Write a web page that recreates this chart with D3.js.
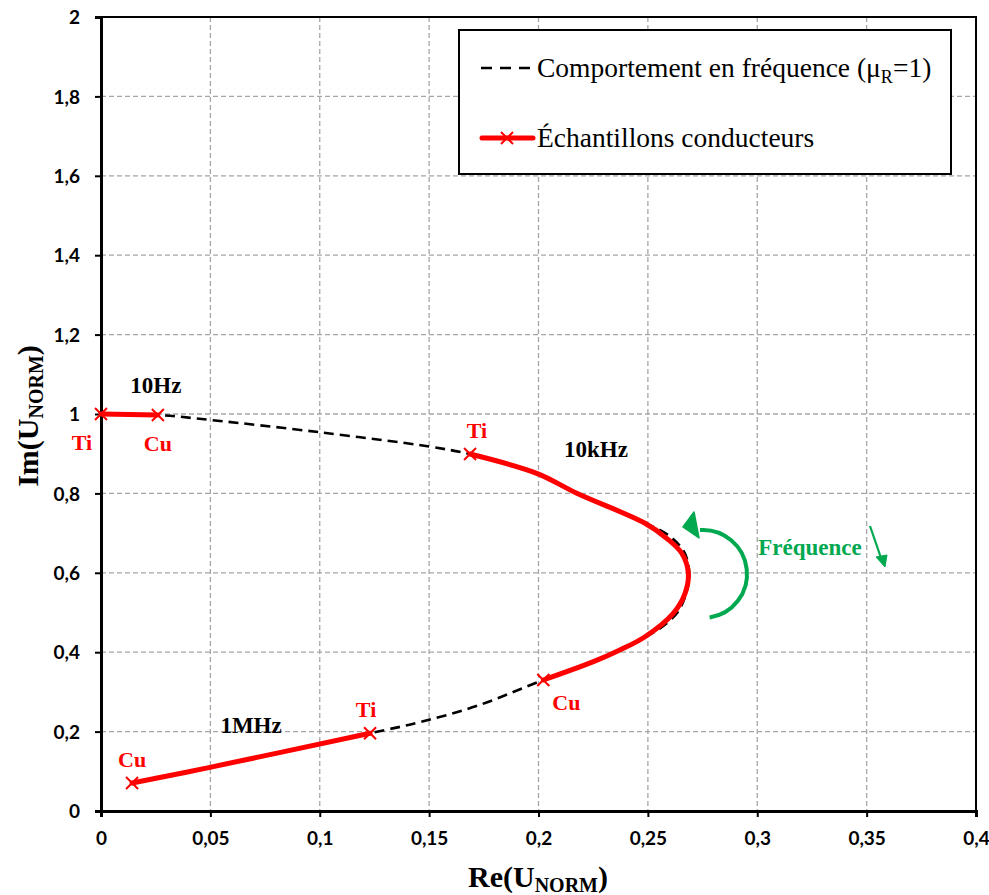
<!DOCTYPE html>
<html><head><meta charset="utf-8">
<script src="https://cdn.jsdelivr.net/npm/d3@7"></script>
<style>body{margin:0;background:#fff}</style>
</head><body>
<svg id="c" width="989" height="895"></svg>
<script>
// Data
const xTicks = [0,0.05,0.1,0.15,0.2,0.25,0.3,0.35,0.4];
const yTicks = [0,0.2,0.4,0.6,0.8,1,1.2,1.4,1.6,1.8,2];
// frequency behaviour (mu_R = 1), [Re, Im]
const freqCurve = [[0,1.0],[0.026,0.9975],[0.05,0.985],[0.1,0.954],[0.15,0.918],[0.1687,0.899],[0.1992,0.851],[0.2175,0.80],[0.2487,0.726],[0.2605,0.69],[0.2668,0.65],[0.2689,0.6],[0.2676,0.55],[0.2635,0.5],[0.2555,0.46],[0.2487,0.438],[0.2372,0.405],[0.2251,0.376],[0.2022,0.33],[0.173,0.267],[0.146,0.224],[0.123,0.196],[0.0498,0.110],[0.0142,0.0705]];
// conductive samples (three frequency segments)
const seg10Hz = [[0,1.0],[0.026,0.9975]];
const seg10kHz = [[0.1687,0.8992],[0.1992,0.8506],[0.2175,0.8003],[0.2487,0.7247],[0.2586,0.6869],[0.2655,0.6491],[0.2685,0.5987],[0.267,0.5484],[0.2616,0.498],[0.2487,0.439],[0.2372,0.4055],[0.2251,0.3761],[0.2022,0.33]];
const seg1MHz = [[0.123,0.196],[0.0498,0.110],[0.0142,0.0705]];
const sampleLabels = [
  {t:"Ti", x:0, y:1.0, dx:-19, dy:36},
  {t:"Cu", x:0.026, y:0.9975, dx:0, dy:36},
  {t:"Ti", x:0.1687, y:0.8992, dx:7, dy:-16},
  {t:"Cu", x:0.2022, y:0.33, dx:23, dy:30},
  {t:"Ti", x:0.123, y:0.196, dx:-4, dy:-16},
  {t:"Cu", x:0.0142, y:0.0705, dx:0, dy:-16}
];
const freqLabels = [
  {t:"10Hz", x:0.0251, y:1.053},
  {t:"10kHz", x:0.2263, y:0.8917},
  {t:"1MHz", x:0.0686, y:0.1965}
];

const svg = d3.select("#c");
const L=101, R=976, T=17, B=811;
const x = d3.scaleLinear().domain([0,0.4]).range([L,R]);
const y = d3.scaleLinear().domain([0,2]).range([B,T]);
const fmt = d => String(+d.toFixed(2)).replace(".",",");
const serif = "'Liberation Serif', 'Times New Roman', serif";

// grid
const g = svg.append("g");
g.selectAll(".gx").data(xTicks.slice(1,-1)).join("line")
  .attr("x1",d=>x(d)).attr("x2",d=>x(d)).attr("y1",T).attr("y2",B)
  .attr("stroke","#a6a6a6").attr("stroke-width",1.3).attr("stroke-dasharray","5,3");
g.selectAll(".gy").data(yTicks.slice(1,-1)).join("line")
  .attr("y1",d=>y(d)).attr("y2",d=>y(d)).attr("x1",L).attr("x2",R)
  .attr("stroke","#a6a6a6").attr("stroke-width",1.3).attr("stroke-dasharray","5,3");

// frame
svg.append("rect").attr("x",L).attr("y",T).attr("width",R-L).attr("height",B-T)
  .attr("fill","none").attr("stroke","#000").attr("stroke-width",2);

// axes
const xa = svg.append("g").attr("transform",`translate(0,${B})`)
  .call(d3.axisBottom(x).tickValues(xTicks).tickFormat(fmt).tickSize(6).tickPadding(15));
const ya = svg.append("g").attr("transform",`translate(${L},0)`)
  .call(d3.axisLeft(y).tickValues(yTicks).tickFormat(fmt).tickSize(6).tickPadding(15));
[xa,ya].forEach(a=>{
  a.select(".domain").attr("stroke","#000").attr("stroke-width",3);
  a.selectAll(".tick line").attr("stroke","#000").attr("stroke-width",2);
  a.selectAll("text").attr("font-family","Lato, 'Open Sans', sans-serif")
    .attr("font-weight","bold").attr("font-size","19px").attr("fill","#000");
});
ya.selectAll("text").attr("dy","0.35em");

// axis titles
const xt = svg.append("text").attr("x",538).attr("y",887).attr("text-anchor","middle")
  .attr("font-family",serif).attr("font-weight","bold").attr("font-size","30px");
xt.append("tspan").text("Re(U");
xt.append("tspan").text("NORM").attr("font-size","20px").attr("dy","5");
xt.append("tspan").text(")").attr("dy","-5");
const yt = svg.append("text").attr("transform","translate(38,416) rotate(-90)").attr("text-anchor","middle")
  .attr("font-family",serif).attr("font-weight","bold").attr("font-size","30px");
yt.append("tspan").text("Im(U");
yt.append("tspan").text("NORM").attr("font-size","20px").attr("dy","5");
yt.append("tspan").text(")").attr("dy","-5");

// curves
const line = d3.line().x(d=>x(d[0])).y(d=>y(d[1])).curve(d3.curveCatmullRom);
svg.append("path").attr("d",line(freqCurve)).attr("fill","none")
  .attr("stroke","#000").attr("stroke-width",2.6).attr("stroke-dasharray","10,6");
[seg10Hz,seg10kHz,seg1MHz].forEach(s=>{
  svg.append("path").attr("d",line(s)).attr("fill","none")
    .attr("stroke","#ff0000").attr("stroke-width",5).attr("stroke-linecap","round");
  [s[0],s[s.length-1]].forEach(p=>{
    const cx=x(p[0]), cy=y(p[1]), r=6;
    svg.append("path").attr("d",`M${cx-r},${cy-r}L${cx+r},${cy+r}M${cx-r},${cy+r}L${cx+r},${cy-r}`)
      .attr("stroke","#ff0000").attr("stroke-width",2);
  });
});

// labels
svg.selectAll(".sl").data(sampleLabels).join("text")
  .attr("x",d=>x(d.x)+d.dx).attr("y",d=>y(d.y)+d.dy).attr("text-anchor","middle")
  .attr("font-family",serif).attr("font-weight","bold").attr("font-size","22px").attr("fill","#ff0000")
  .text(d=>d.t);
svg.selectAll(".fl").data(freqLabels).join("text")
  .attr("x",d=>x(d.x)).attr("y",d=>y(d.y)).attr("text-anchor","middle")
  .attr("font-family",serif).attr("font-weight","bold").attr("font-size","23px").attr("fill","#000")
  .text(d=>d.t);

// green frequency arrows
const green="#00a84f";
const arc = d3.path();
arc.arc(703,574,44,1.42,-1.64,true);
svg.append("path").attr("d",arc.toString()).attr("fill","none").attr("stroke",green).attr("stroke-width",4);
svg.append("path").attr("d","M683,527 L694,512 L699,538 Z").attr("fill",green).attr("stroke",green).attr("stroke-width",1.5).attr("stroke-linejoin","round");
svg.append("text").attr("x",810).attr("y",555).attr("text-anchor","middle")
  .attr("font-family",serif).attr("font-weight","bold").attr("font-size","23px").attr("fill",green).text("Fréquence");
svg.append("line").attr("x1",870).attr("y1",526).attr("x2",881).attr("y2",558).attr("stroke",green).attr("stroke-width",2.2);
svg.append("path").attr("d","M876,557 L885,567 L887,555 Z").attr("fill",green).attr("stroke",green).attr("stroke-width",1);

// legend
const lg = svg.append("g");
lg.append("rect").attr("x",459).attr("y",30).attr("width",492).attr("height",144)
  .attr("fill","#fff").attr("stroke","#000").attr("stroke-width",2);
lg.append("line").attr("x1",481).attr("x2",532).attr("y1",68).attr("y2",68)
  .attr("stroke","#000").attr("stroke-width",2.6).attr("stroke-dasharray","11,8");
const lt1 = lg.append("text").attr("x",537).attr("y",77).attr("font-family",serif).attr("font-size","27.5px");
lt1.append("tspan").text("Comportement en fréquence (μ");
lt1.append("tspan").text("R").attr("font-size","18px").attr("dy","6");
lt1.append("tspan").text("=1)").attr("dy","-6");
lg.append("line").attr("x1",482).attr("x2",533).attr("y1",138).attr("y2",138)
  .attr("stroke","#ff0000").attr("stroke-width",5).attr("stroke-linecap","round");
lg.append("path").attr("d","M501,132L513,144M501,144L513,132").attr("stroke","#ff0000").attr("stroke-width",2);
lg.append("text").attr("x",537).attr("y",147).attr("font-family",serif).attr("font-size","27.5px").text("Échantillons conducteurs");
</script>
</body></html>
